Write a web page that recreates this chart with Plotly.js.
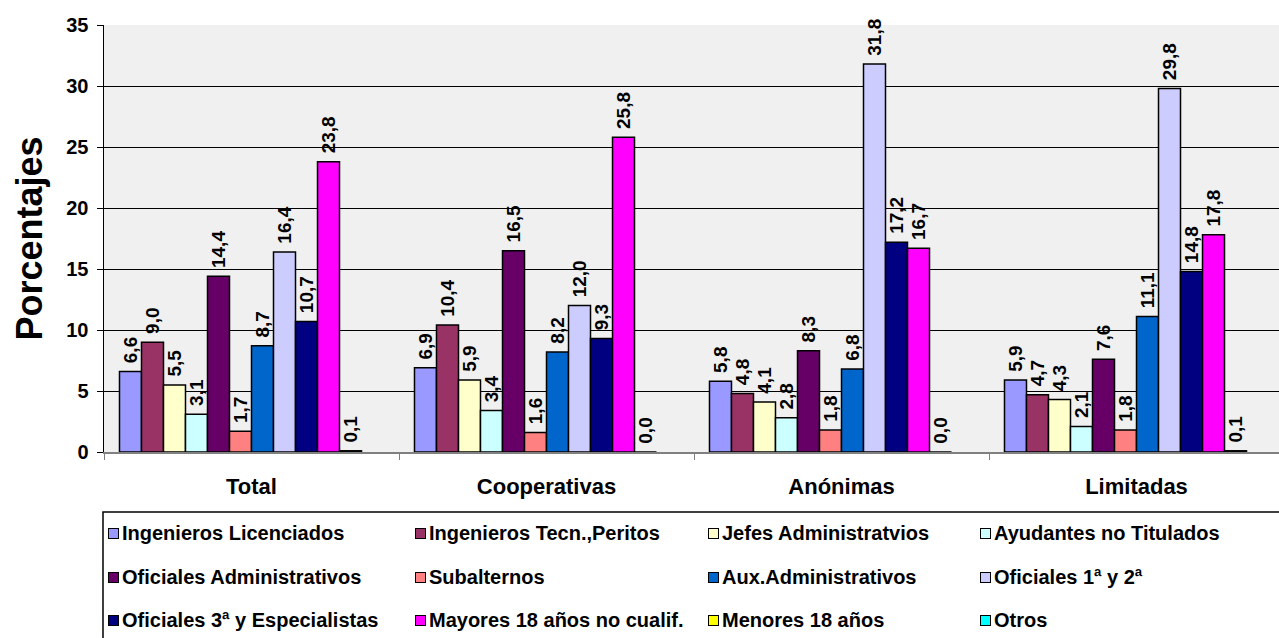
<!DOCTYPE html>
<html>
<head>
<meta charset="utf-8">
<script src="https://cdn.plot.ly/plotly-3.0.1.min.js"></script>
<style>
html,body{margin:0;padding:0;overflow:hidden;background:#fff;}
#chart{width:1285px;height:638px;}
</style>
</head>
<body>
<div id="chart"></div>
<script>
// ---- data ----
const categories = ["Total", "Cooperativas", "Anónimas", "Limitadas"];
const seriesNames = [
  "Ingenieros Licenciados", "Ingenieros Tecn.,Peritos", "Jefes Administratvios", "Ayudantes no Titulados",
  "Oficiales Administrativos", "Subalternos", "Aux.Administrativos", "Oficiales 1ª y 2ª",
  "Oficiales 3ª y Especialistas", "Mayores 18 años no cualif.", "Menores 18 años", "Otros"
];
const ingenierosLicenciados = [6.6, 6.9, 5.8, 5.9];
const ingenierosTecn = [9.0, 10.4, 4.8, 4.7];
const jefesAdministrativos = [5.5, 5.9, 4.1, 4.3];
const ayudantesNoTitulados = [3.1, 3.4, 2.8, 2.1];
const oficialesAdministrativos = [14.4, 16.5, 8.3, 7.6];
const subalternos = [1.7, 1.6, 1.8, 1.8];
const auxAdministrativos = [8.7, 8.2, 6.8, 11.1];
const oficiales1y2 = [16.4, 12.0, 31.8, 29.8];
const oficiales3yEspecialistas = [10.7, 9.3, 17.2, 14.8];
const mayores18 = [23.8, 25.8, 16.7, 17.8];
const menores18 = [0.1, 0.0, 0.0, 0.1];
const otros = [null, null, null, null];
const yTicks = [0, 5, 10, 15, 20, 25, 30, 35];

const seriesValues = [ingenierosLicenciados, ingenierosTecn, jefesAdministrativos, ayudantesNoTitulados,
  oficialesAdministrativos, subalternos, auxAdministrativos, oficiales1y2,
  oficiales3yEspecialistas, mayores18, menores18, otros];
const colors = ["#9999FF", "#993366", "#FFFFCC", "#CCFFFF", "#660066", "#FF8080",
  "#0066CC", "#CCCCFF", "#000080", "#FF00FF", "#FFFF00", "#00FFFF"];

const FONT = 'Arial, "Liberation Sans", sans-serif';
const W = 1285, H = 638;
const M = {l: 104, r: 1, t: 25, b: 186};
const PW = W - M.l - M.r, PH = H - M.t - M.b;
const px2x = px => (px - M.l) / PW;
const py2y = py => (H - M.b - py) / PH;

const traces = seriesNames.map((name, i) => ({
  type: 'bar',
  name: name,
  x: categories,
  y: seriesValues[i],
  marker: {color: colors[i], line: {color: '#000000', width: 1.5}},
  texttemplate: seriesValues[i].some(v => v !== null) ? '\u00a0%{y:.1f}' : '',
  textposition: 'outside',
  textangle: -90,
  constraintext: 'none',
  cliponaxis: false,
  textfont: {family: FONT, size: 19, color: '#000000', weight: 'bold'},
  hoverinfo: 'x+y+name'
}));

// manual legend (4 columns x 3 rows)
const colSquare = [113, 420, 713, 985];
const rowY = [533, 577, 620];
const annotations = [];
seriesNames.forEach((name, i) => {
  const r = Math.floor(i / 4), c = i % 4;
  annotations.push({
    xref: 'paper', yref: 'paper', x: px2x(colSquare[c]), y: py2y(rowY[r]),
    xanchor: 'center', yanchor: 'middle', text: ' ', showarrow: false,
    width: 9, height: 9, bgcolor: colors[i], bordercolor: '#000000', borderwidth: 1, borderpad: 0,
    font: {size: 6}
  });
  annotations.push({
    xref: 'paper', yref: 'paper', x: px2x(colSquare[c] + 7), y: py2y(rowY[r]),
    xanchor: 'left', yanchor: 'middle', text: name, showarrow: false,
    font: {family: FONT, size: 20, color: '#000000', weight: 'bold'}
  });
});

const layout = {
  width: W, height: H,
  margin: M,
  paper_bgcolor: '#ffffff',
  plot_bgcolor: '#f0f0f0',
  separators: ',.',
  barmode: 'group',
  bargap: 0.105,
  bargroupgap: 0,
  showlegend: false,
  font: {family: FONT, color: '#000000'},
  xaxis: {
    type: 'category',
    showgrid: false,
    showline: true, linecolor: '#808080', linewidth: 1.5,
    ticks: 'outside', tickson: 'boundaries', ticklen: 6, tickcolor: '#808080',
    tickfont: {family: FONT, size: 22, color: '#000000', weight: 'bold'},
    ticklabelstandoff: 14,
    fixedrange: true
  },
  yaxis: {
    range: [0, 35],
    tickvals: yTicks,
    ticktext: yTicks.map(String),
    showgrid: true, gridcolor: '#000000', gridwidth: 1,
    zeroline: false,
    showline: true, linecolor: '#000000', linewidth: 1.5,
    ticks: 'outside', ticklen: 6, tickcolor: '#000000',
    tickfont: {family: FONT, size: 20, color: '#000000', weight: 'bold'},
    ticklabelstandoff: 4,
    title: {text: 'Porcentajes', font: {family: FONT, size: 36, color: '#000000', weight: 'bold'}, standoff: 12},
    fixedrange: true
  },
  shapes: [{
    type: 'rect', xref: 'paper', yref: 'paper',
    x0: px2x(103), x1: 1.05, y0: py2y(512), y1: py2y(660),
    line: {color: '#000000', width: 1.5}, fillcolor: 'rgba(0,0,0,0)', layer: 'above'
  }],
  annotations: annotations
};

Plotly.newPlot('chart', traces, layout, {displayModeBar: false, staticPlot: true});
</script>
</body>
</html>
